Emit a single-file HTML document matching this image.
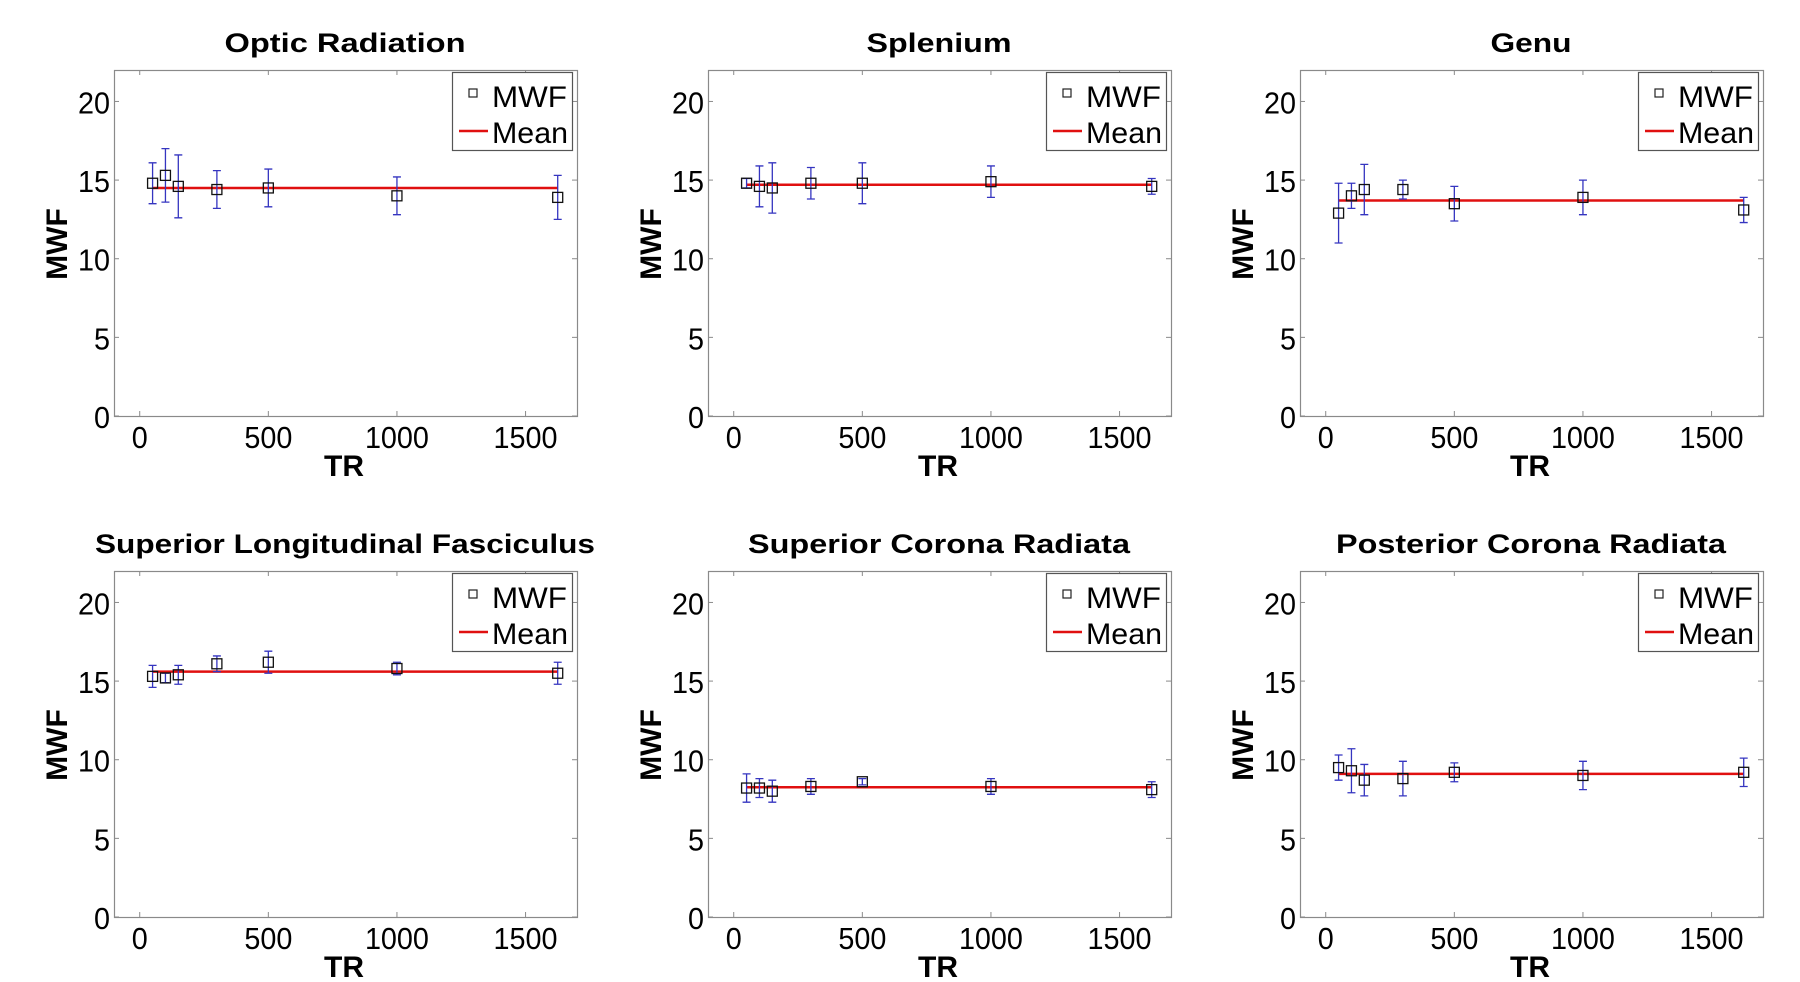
<!DOCTYPE html>
<html><head><meta charset="utf-8"><style>
html,body{margin:0;padding:0;background:#fff;}
svg{display:block;}
</style></head><body>
<svg id="fig" width="1800" height="982" viewBox="0 0 1800 982" xmlns="http://www.w3.org/2000/svg"></svg>
<script>
const trValues = [50, 100, 150, 300, 500, 1000, 1625];
const panelTitles = ["Optic Radiation","Splenium","Genu","Superior Longitudinal Fasciculus","Superior Corona Radiata","Posterior Corona Radiata"];
const titleWidths = [241,145,81,500,382,390];
const mwfOptic = [14.8,15.3,14.6,14.4,14.5,14.0,13.9];
const errOptic = [1.3,1.7,2.0,1.2,1.2,1.2,1.4];
const meanOptic = 14.5;
const mwfSplenium = [14.8,14.6,14.5,14.8,14.8,14.9,14.6];
const errSplenium = [0.3,1.3,1.6,1.0,1.3,1.0,0.5];
const meanSplenium = 14.7;
const mwfGenu = [12.9,14.0,14.4,14.4,13.5,13.9,13.1];
const errGenu = [1.9,0.8,1.6,0.6,1.1,1.1,0.8];
const meanGenu = 13.7;
const mwfSLF = [15.3,15.2,15.4,16.1,16.2,15.8,15.5];
const errSLF = [0.7,0.3,0.6,0.5,0.7,0.4,0.7];
const meanSLF = 15.6;
const mwfSCR = [8.2,8.2,8.0,8.3,8.6,8.3,8.1];
const errSCR = [0.9,0.6,0.7,0.5,0.2,0.5,0.5];
const meanSCR = 8.25;
const mwfPCR = [9.5,9.3,8.7,8.8,9.2,9.0,9.2];
const errPCR = [0.8,1.4,1.0,1.1,0.6,0.9,0.9];
const meanPCR = 9.1;
const xTicks = [0,500,1000,1500];
const yTicks = [0,5,10,15,20];

const panelVals = [mwfOptic,mwfSplenium,mwfGenu,mwfSLF,mwfSCR,mwfPCR];
const panelErrs = [errOptic,errSplenium,errGenu,errSLF,errSCR,errPCR];
const panelMeans = [meanOptic,meanSplenium,meanGenu,meanSLF,meanSCR,meanPCR];

const NS = "http://www.w3.org/2000/svg";
const svg = document.getElementById('fig');
function mk(tag, attrs, parent){
  const e = document.createElementNS(NS, tag);
  for (const k in attrs) e.setAttribute(k, attrs[k]);
  (parent||svg).appendChild(e);
  return e;
}
const colX = [0,594,1186];
const rowY = [0,501];
const W = 463, H = 346;
for (let p=0;p<6;p++){
  const ox = colX[p%3], oy = rowY[Math.floor(p/3)];
  const L = 114+ox, T = 70+oy, R = L+W, B = T+H;
  const g = mk('g',{});
  
  
  const xs = v => L + (v+100)/1800*W;
  const ys = v => B - v/22*H;
  // title
  const t = mk('text',{x:L+231,y:52+oy,'text-anchor':'middle','font-family':'Liberation Sans, sans-serif','font-weight':'bold','font-size':27,textLength:titleWidths[p],lengthAdjust:'spacingAndGlyphs'},g);
  t.textContent = panelTitles[p];
  
  
  // box
  const box = mk('rect',{x:L+0.5,y:T+0.5,width:W,height:H,fill:'none',stroke:'#8a8a8a','stroke-width':1.2},g);
  
  
  // ticks
  xTicks.forEach(v=>{
    const x = xs(v);
    mk('line',{x1:x,y1:B,x2:x,y2:B-5,stroke:'#8a8a8a'},g);
    mk('line',{x1:x,y1:T,x2:x,y2:T+5,stroke:'#8a8a8a'},g);
    const lb = mk('text',{x:x,y:448+oy,'text-anchor':'middle','font-family':'Liberation Sans, sans-serif','font-size':31,textLength:String(v).length*16,lengthAdjust:'spacingAndGlyphs'},g);
    lb.textContent = v;
    
    
  });
  yTicks.forEach(v=>{
    const y = ys(v);
    mk('line',{x1:L,y1:y,x2:L+5,y2:y,stroke:'#8a8a8a'},g);
    mk('line',{x1:R,y1:y,x2:R-5,y2:y,stroke:'#8a8a8a'},g);
    const lb = mk('text',{x:L-4,y:y+12,'text-anchor':'end','font-family':'Liberation Sans, sans-serif','font-size':31,textLength:String(v).length*16,lengthAdjust:'spacingAndGlyphs'},g);
    lb.textContent = v;
    
    
  });
  // axis titles
  const xt = mk('text',{x:L+230,y:476+oy,'text-anchor':'middle','font-family':'Liberation Sans, sans-serif','font-weight':'bold','font-size':30},g);
  xt.textContent = 'TR';
  
  
  const yt = mk('text',{x:0,y:0,'text-anchor':'middle','font-family':'Liberation Sans, sans-serif','font-weight':'bold','font-size':30,transform:`translate(${67+ox},${244+oy}) rotate(-90)`},g);
  yt.textContent = 'MWF';
  
  
  // mean line
  const ml = mk('line',{x1:xs(trValues[0]),x2:xs(trValues[trValues.length-1]),y1:ys(panelMeans[p]),y2:ys(panelMeans[p]),stroke:'#e01010','stroke-width':2.5},g);
  
  
  // error bars and markers
  const vals = panelVals[p], errs = panelErrs[p];
  trValues.forEach((tr,i)=>{
    const x = xs(tr), y0 = ys(vals[i]-errs[i]), y1 = ys(vals[i]+errs[i]);
    const eb = mk('path',{d:`M${x},${y0}V${y1}M${x-4},${y0}H${x+4}M${x-4},${y1}H${x+4}`,stroke:'#3535c0','stroke-width':1.3,fill:'none'},g);
    
    
    const m = mk('rect',{x:x-5,y:ys(vals[i])-5,width:10,height:10,fill:'none',stroke:'#111','stroke-width':1.3},g);
    
    
  });
  // legend
  const lg = mk('g',{},g);
  
  
  mk('rect',{x:L+338.5,y:T+2.5,width:120,height:78,fill:'#fff',stroke:'#555','stroke-width':1.2},lg);
  mk('rect',{x:L+355,y:T+19,width:8,height:8,fill:'none',stroke:'#222','stroke-width':1.2},lg);
  const l1 = mk('text',{x:L+378,y:T+37,'font-family':'Liberation Sans, sans-serif','font-size':30,textLength:75,lengthAdjust:'spacingAndGlyphs'},lg);
  l1.textContent = 'MWF';
  mk('line',{x1:L+345,x2:L+374,y1:T+61,y2:T+61,stroke:'#e01010','stroke-width':2.5},lg);
  const l2 = mk('text',{x:L+378,y:T+73,'font-family':'Liberation Sans, sans-serif','font-size':30,textLength:76,lengthAdjust:'spacingAndGlyphs'},lg);
  l2.textContent = 'Mean';
}
</script>
</body></html>
